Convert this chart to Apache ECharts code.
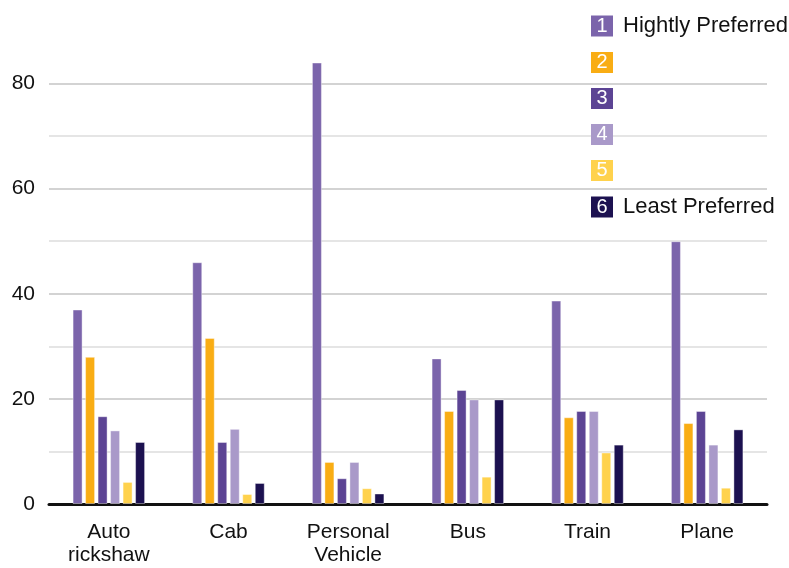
<!DOCTYPE html>
<html>
<head>
<meta charset="utf-8">
<script src="https://cdn.jsdelivr.net/npm/echarts@6/dist/echarts.min.js"></script>
<style>
  html, body { margin: 0; padding: 0; background: #ffffff; }
  #chart { width: 789px; height: 568px; }
</style>
</head>
<body>
<div id="chart"></div>
<script>
// Transport modes along the x axis
const categories = ['Auto\nrickshaw', 'Cab', 'Personal\nVehicle', 'Bus', 'Train', 'Plane'];

// Preference ranks (1 = highly preferred ... 6 = least preferred)
const rankNames = ['1', '2', '3', '4', '5', '6'];
const rankLabels = ['Hightly Preferred', '', '', '', '', 'Least Preferred'];

// Share of respondents per rank, one array per rank, in category order
const rank1 = [37, 46, 84, 27.7, 38.7, 50];
const rank2 = [28, 31.6, 8, 17.7, 16.5, 15.4];
const rank3 = [16.7, 11.8, 4.9, 21.7, 17.7, 17.7];
const rank4 = [14, 14.3, 8, 19.9, 17.7, 11.3];
const rank5 = [4.2, 1.9, 3, 5.2, 9.8, 3.1];
const rank6 = [11.8, 4, 2, 19.9, 11.3, 14.2];

// Y axis ticks that carry a label
const yTickLabels = [0, 20, 40, 60, 80];

const rankValues = [rank1, rank2, rank3, rank4, rank5, rank6];
const colors = ['#7b64ab', '#f9ad14', '#5c4494', '#a999c9', '#ffd24d', '#1c1150'];

const FONT = '"Liberation Sans", Arial, sans-serif';

const rich = { txt: { fontSize: 22, color: '#111111', fontFamily: FONT, padding: [0, 0, 0, 10] } };
rankNames.forEach((n, i) => {
  rich['n' + n] = {
    backgroundColor: colors[i],
    color: '#ffffff',
    fontSize: 20,
    fontFamily: FONT,
    width: 22,
    height: 21,
    lineHeight: 21,
    align: 'center',
    verticalAlign: 'middle'
  };
});

const chart = echarts.init(document.getElementById('chart'), null, { renderer: 'canvas' });

chart.setOption({
  animation: false,
  backgroundColor: '#ffffff',
  color: colors,
  grid: { left: 49, right: 22, top: 31, bottom: 64, containLabel: false },
  legend: {
    data: rankNames,
    orient: 'vertical',
    left: 580,
    top: 10,
    itemWidth: 0,
    itemHeight: 0,
    itemGap: 15,
    selectedMode: false,
    formatter: name => {
      const i = rankNames.indexOf(name);
      const t = rankLabels[i];
      return '{n' + name + '|' + name + '}' + (t ? '{txt|' + t + '}' : '');
    },
    textStyle: { rich: rich, fontFamily: FONT }
  },
  xAxis: {
    type: 'category',
    data: categories,
    axisLine: { show: true, lineStyle: { color: '#111111', width: 3 } },
    axisTick: { show: false },
    axisLabel: {
      fontSize: 21,
      lineHeight: 23,
      color: '#111111',
      fontFamily: FONT,
      margin: 17,
      interval: 0
    }
  },
  yAxis: {
    type: 'value',
    min: 0,
    max: 90,
    interval: 10,
    axisLine: { show: false },
    axisTick: { show: false },
    axisLabel: {
      fontSize: 21,
      color: '#111111',
      fontFamily: FONT,
      margin: 14,
      padding: [4, 0, 0, 0],
      formatter: v => (yTickLabels.indexOf(v) >= 0 ? String(v) : '')
    },
    splitLine: {
      show: true,
      showMaxLine: false,
      lineStyle: { color: ['#c4c4c4', '#dcdcdc'], width: 1.5 }
    }
  },
  series: rankNames.map((n, i) => ({
    name: n,
    type: 'bar',
    data: rankValues[i],
    barWidth: 10,
    barGap: '25%',
    itemStyle: {
      color: colors[i],
      borderColor: 'rgba(255,255,255,0.4)',
      borderWidth: 1
    }
  }))
});
</script>
</body>
</html>
